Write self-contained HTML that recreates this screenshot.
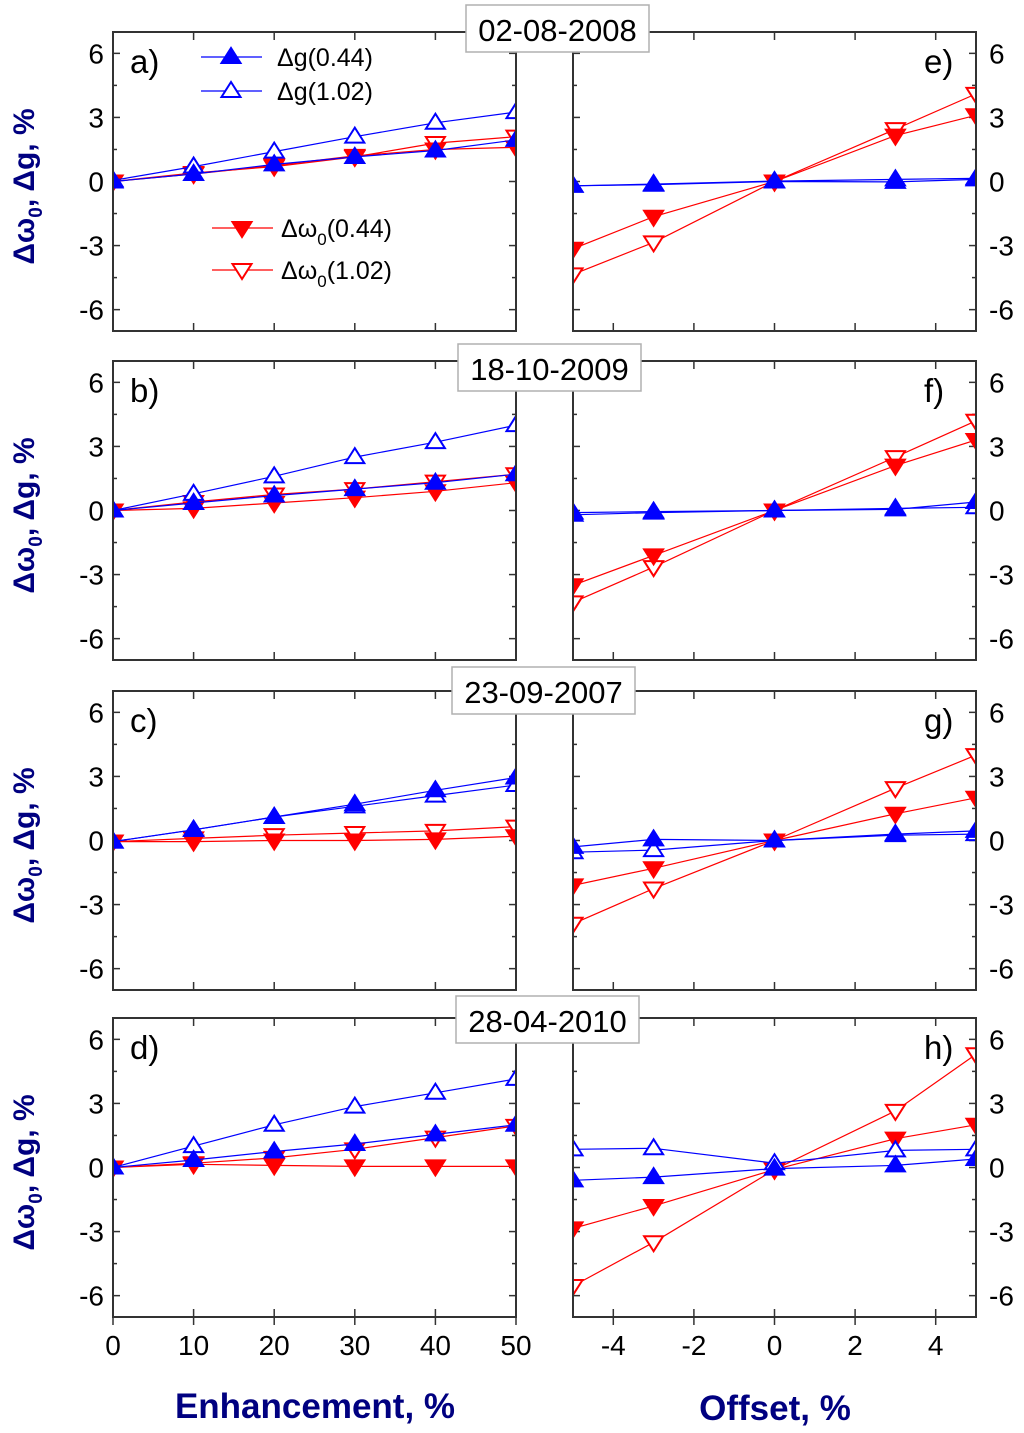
<!DOCTYPE html>
<html><head><meta charset="utf-8">
<style>
html,body{margin:0;padding:0;background:#fff;}
svg{display:block;font-family:"Liberation Sans",Arial,sans-serif;}
</style></head>
<body>
<svg id="fig" width="1024" height="1433" viewBox="0 0 1024 1433" xmlns="http://www.w3.org/2000/svg"></svg>
<script>
// ---- data ----
const enhCats = [0, 10, 20, 30, 40, 50];
const offCats = [-5, -3, 0, 3, 5];
const yTicks = [-6, -3, 0, 3, 6];
const enhTickLabels = [0, 10, 20, 30, 40, 50];
const offTickLabels = [-4, -2, 0, 2, 4];
const dates = ["02-08-2008", "18-10-2009", "23-09-2007", "28-04-2010"];
const leftLetters = ["a)", "b)", "c)", "d)"];
const rightLetters = ["e)", "f)", "g)", "h)"];

// Enhancement panels (a-d): per row
const enh_g044 = [[0,0.35,0.8,1.15,1.45,1.95],[0,0.35,0.7,1.0,1.3,1.7],[-0.05,0.5,1.1,1.7,2.35,2.95],[0,0.35,0.75,1.1,1.55,2.0]];
const enh_g102 = [[0.05,0.7,1.4,2.1,2.75,3.25],[0,0.78,1.6,2.5,3.2,4.0],[-0.05,0.5,1.1,1.6,2.1,2.6],[0,1.0,2.0,2.85,3.5,4.15]];
const enh_w044 = [[0,0.35,0.75,1.2,1.5,1.6],[0,0.1,0.35,0.6,0.9,1.3],[-0.05,-0.05,0.0,0.0,0.05,0.2],[0,0.15,0.1,0.05,0.05,0.05]];
const enh_w102 = [[0,0.4,0.7,1.15,1.8,2.1],[0,0.4,0.75,1.0,1.35,1.7],[-0.05,0.1,0.25,0.35,0.45,0.65],[0,0.2,0.45,0.85,1.4,1.95]];
// Offset panels (e-h)
const off_g044 = [[-0.2,-0.15,0,-0.02,0.1],[-0.2,-0.1,0,0.05,0.4],[-0.3,0.05,0,0.3,0.45],[-0.6,-0.45,-0.05,0.1,0.4]];
const off_g102 = [[-0.2,-0.12,0.02,0.1,0.15],[-0.1,-0.05,0,0.1,0.15],[-0.55,-0.45,0,0.25,0.3],[0.85,0.9,0.2,0.8,0.85]];
const off_w044 = [[-3.15,-1.65,0,2.15,3.1],[-3.5,-2.1,0,2.1,3.3],[-2.1,-1.3,0,1.25,2.0],[-2.85,-1.8,-0.1,1.35,2.0]];
const off_w102 = [[-4.35,-2.85,0,2.45,4.1],[-4.3,-2.65,0,2.5,4.2],[-3.9,-2.25,0,2.45,4.0],[-5.55,-3.5,-0.1,2.65,5.3]];

// ---- layout ----
const NS = "http://www.w3.org/2000/svg";
const svg = document.getElementById("fig");
const rowTops = [32, 361, 691, 1018];
const PH = 299;
const L = {x0:113, x1:516, min:0, max:50};
const R = {x0:573, x1:976, min:-5, max:5};
const YMIN = -7, YMAX = 7;
const BLUE = "#0000ff", RED = "#ff0000", NAVY = "#000080", AX = "#333333";

function mk(tag, attrs, parent){
  const e = document.createElementNS(NS, tag);
  for (const k in attrs) e.setAttribute(k, attrs[k]);
  (parent || svg).appendChild(e);
  return e;
}
function xs(p, v){ return p.x0 + (v - p.min) / (p.max - p.min) * (p.x1 - p.x0); }
function ys(top, v){ return top + (YMAX - v) / (YMAX - YMIN) * PH; }

function tri(g, x, y, up, filled, color){
  const w = 9.5, h = 15;
  let pts;
  if (up) pts = [[x, y - h*0.6],[x - w, y + h*0.4],[x + w, y + h*0.4]];
  else pts = [[x, y + h*0.6],[x - w, y - h*0.4],[x + w, y - h*0.4]];
  return mk("polygon", {points: pts.map(q=>q.join(",")).join(" "), fill: filled ? color : "#fff", stroke: color, "stroke-width": 2}, g);
}

function series(g, p, top, cats, vals, color, up, filled, name){
  const sg = mk("g", {}, g);
  
  
  const d = cats.map((c,i)=>(i?"L":"M")+xs(p,c).toFixed(1)+","+ys(top,vals[i]).toFixed(1)).join(" ");
  const line = mk("path", {d:d, fill:"none", stroke:color, "stroke-width":1.2}, sg);
  
  
  cats.forEach((c,i)=>{
    const m = tri(sg, xs(p,c), ys(top,vals[i]), up, filled, color);
    
    
  });
}

function panel(row, p, side){
  const top = rowTops[row], bot = top + PH;
  const g = mk("g", {});
  
  
  const cid = "clip" + side + row;
  const cp = mk("clipPath", {id: cid}, g);
  mk("rect", {x:p.x0, y:top, width:p.x1-p.x0, height:PH}, cp);
  for (let v = -6; v <= 6; v += 1.5){
    const y = ys(top, v);
    const major = Math.abs(v % 3) < 1e-6;
    const len = major ? 7 : 4;
    mk("line", {x1:p.x0, y1:y, x2:p.x0+len, y2:y, stroke:AX, "stroke-width":1.5}, g);
    mk("line", {x1:p.x1, y1:y, x2:p.x1-len, y2:y, stroke:AX, "stroke-width":1.5}, g);
  }
  const xt = side === "L" ? [10,20,30,40] : offTickLabels;
  xt.forEach(v=>{
    const x = xs(p, v);
    mk("line", {x1:x, y1:top, x2:x, y2:top+8, stroke:AX, "stroke-width":1.5}, g);
    mk("line", {x1:x, y1:bot, x2:x, y2:bot-8, stroke:AX, "stroke-width":1.5}, g);
  });
  yTicks.forEach(v=>{
    const t = mk("text", {x: side==="L" ? 104 : 989, y: ys(top,v)+10, "font-size":28, "text-anchor": side==="L"?"end":"start", fill:"#000"}, g);
    t.textContent = v;
    
    
  });
  const sg = mk("g", {"clip-path":"url(#"+cid+")"}, g);
  const cats = side==="L" ? enhCats : offCats;
  const A = side==="L" ? [enh_g044, enh_g102, enh_w044, enh_w102] : [off_g044, off_g102, off_w044, off_w102];
  series(sg, p, top, cats, A[3][row], RED, false, false, "series-w0-1-02");
  series(sg, p, top, cats, A[2][row], RED, false, true, "series-w0-0-44");
  series(sg, p, top, cats, A[1][row], BLUE, true, false, "series-g-1-02");
  series(sg, p, top, cats, A[0][row], BLUE, true, true, "series-g-0-44");
  mk("rect", {x:p.x0, y:top, width:p.x1-p.x0, height:PH, fill:"none", stroke:AX, "stroke-width":2}, g);
  const lt = mk("text", {x: side==="L" ? 130 : 924, y: top+41, "font-size":33, fill:"#000"}, g);
  lt.textContent = side==="L" ? leftLetters[row] : rightLetters[row];
  
  
  if (row === 3){
    const labs = side==="L" ? enhTickLabels : offTickLabels;
    labs.forEach(v=>{
      const x = xs(p, v);
      mk("line", {x1:x, y1:bot, x2:x, y2:bot+8, stroke:AX, "stroke-width":1.5}, g);
      const t = mk("text", {x:x, y:bot+38, "font-size":28, "text-anchor":"middle", fill:"#000"}, g);
      t.textContent = v;
      
      
    });
  }
}

for (let r = 0; r < 4; r++){
  panel(r, L, "L");
  panel(r, R, "R");
  const cy = rowTops[r] + PH/2 + 5;
  const yt = mk("text", {x:0, y:0, transform:"translate(34,"+cy+") rotate(-90)", "font-size":30, "font-weight":"bold", "text-anchor":"middle", fill:NAVY});
  yt.innerHTML = 'Δω<tspan font-size="19" dy="8">0</tspan><tspan dy="-8">, Δg, %</tspan>';
  
  
}

const boxX = [466, 458, 452, 456];
const boxY = [5, 344, 667, 996];
dates.forEach((d,i)=>{
  const g = mk("g", {});
  
  
  mk("rect", {x:boxX[i], y:boxY[i], width:183, height:47, fill:"#fff", stroke:"#b0b0b0", "stroke-width":1.5}, g);
  const t = mk("text", {x:boxX[i]+91.5, y:boxY[i]+36, "font-size":31, "text-anchor":"middle", fill:"#000"}, g);
  t.textContent = d;
});

const lg = mk("g", {});


const legItems = [
  {y:57, x0:201, color:BLUE, up:true, filled:true, label:'Δg(0.44)'},
  {y:91, x0:201, color:BLUE, up:true, filled:false, label:'Δg(1.02)'},
  {y:228, x0:212, color:RED, up:false, filled:true, label:'Δω<tspan font-size="17" dy="8">0</tspan><tspan dy="-8">(0.44)</tspan>'},
  {y:270, x0:212, color:RED, up:false, filled:false, label:'Δω<tspan font-size="17" dy="8">0</tspan><tspan dy="-8">(1.02)</tspan>'}
];
legItems.forEach(it=>{
  const e = mk("g", {}, lg);
  
  
  mk("line", {x1:it.x0, y1:it.y, x2:it.x0+61, y2:it.y, stroke:it.color, "stroke-width":1.2}, e);
  tri(e, it.x0+30, it.y, it.up, it.filled, it.color);
  const t = mk("text", {x:it.x0+(it.color===BLUE?76:69), y:it.y+9, "font-size":25, fill:"#000"}, e);
  t.innerHTML = it.label;
});

const xt1 = mk("text", {x:315, y:1418, "font-size":35, "font-weight":"bold", "text-anchor":"middle", fill:NAVY});
xt1.textContent = "Enhancement, %";


const xt2 = mk("text", {x:775, y:1420, "font-size":35, "font-weight":"bold", "text-anchor":"middle", fill:NAVY});
xt2.textContent = "Offset, %";


</script>
</body></html>
